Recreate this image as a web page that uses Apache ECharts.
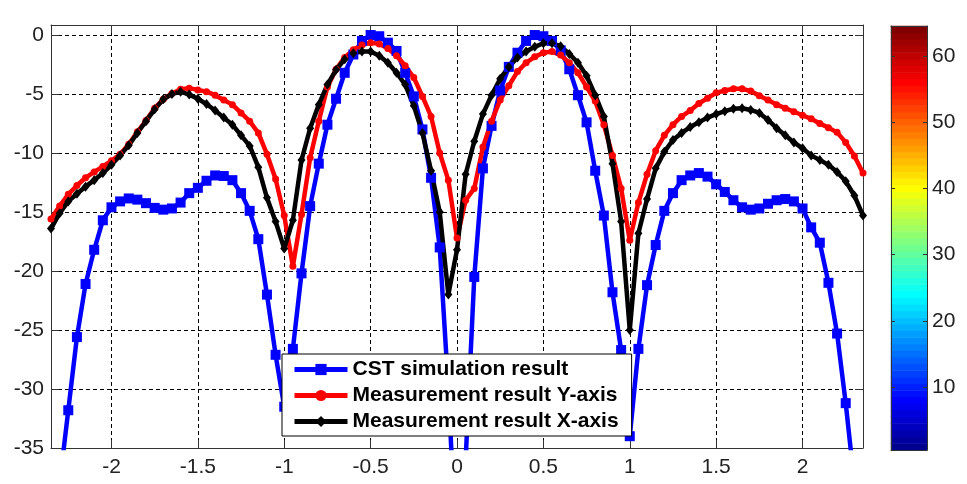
<!DOCTYPE html>
<html><head><meta charset="utf-8">
<script src="https://cdn.jsdelivr.net/npm/echarts@6/dist/echarts.min.js"></script>
<style>html,body{margin:0;padding:0;background:#fff}#c{width:967px;height:484px}</style>
</head><body><div id="c"></div>
<script>
const xTicks = [-2, -1.5, -1, -0.5, 0, 0.5, 1, 1.5, 2];
const yTicks = [-35, -30, -25, -20, -15, -10, -5, 0];
const cbarTicks = [10, 20, 30, 40, 50, 60];
const cbarLevels = [1,2,3,4,5,6,7,8,9,10,11,12,13,14,15,16,17,18,19,20,21,22,23,24,25,26,27,28,29,30,31,32,
  33,34,35,36,37,38,39,40,41,42,43,44,45,46,47,48,49,50,51,52,53,54,55,56,57,58,59,60,61,62,63,64];
const seriesNames = ['CST simulation result', 'Measurement result Y-axis', 'Measurement result X-axis'];

const xCST = [-2.3,-2.25,-2.2,-2.15,-2.1,-2.05,-2,-1.95,-1.9,-1.85,-1.8,-1.75,-1.7,-1.65,-1.6,-1.55,-1.5,-1.45,-1.4,-1.35,
  -1.3,-1.25,-1.2,-1.15,-1.1,-1.05,-1,-0.95,-0.9,-0.85,-0.8,-0.75,-0.7,-0.65,-0.6,-0.55,-0.5,-0.45,-0.4,-0.35,
  -0.3,-0.25,-0.2,-0.15,-0.1,-0.05,0,0.05,0.1,0.15,0.2,0.25,0.3,0.35,0.4,0.45,0.5,0.55,0.6,0.65,
  0.7,0.75,0.8,0.85,0.9,0.95,1,1.05,1.1,1.15,1.2,1.25,1.3,1.35,1.4,1.45,1.5,1.55,1.6,1.65,
  1.7,1.75,1.8,1.85,1.9,1.95,2,2.05,2.1,2.15,2.2,2.25,2.3];
const cstVals = [-38,-31.8,-25.6,-21.1,-18.2,-15.7,-14.6,-14.1,-13.85,-13.95,-14.25,-14.65,-14.8,-14.7,-14.2,-13.4,-12.95,-12.35,-11.9,-11.95,
  -12.3,-13.4,-14.9,-17.3,-22.0,-27.1,-31.5,-26.6,-20.2,-14.5,-10.9,-7.6,-5.4,-3.2,-1.65,-0.5,0,-0.1,-0.65,-1.35,
  -3.2,-5.2,-8.0,-12.1,-18.0,-30.0,-45,-36,-20.5,-11.3,-7.7,-4.7,-2.7,-1.5,-0.5,0,-0.1,-0.5,-1.3,-2.9,
  -5.1,-7.4,-11.5,-15.3,-21.8,-26.7,-34,-26.6,-21.2,-17.8,-14.9,-13.4,-12.3,-11.9,-11.7,-12.0,-12.65,-13.3,-14.0,-14.6,
  -14.8,-14.7,-14.3,-14.0,-13.9,-14.1,-14.7,-16.3,-17.6,-21.0,-25.3,-31.2,-38];

const xMeas = [-2.35,-2.3,-2.25,-2.2,-2.15,-2.1,-2.05,-2,-1.95,-1.9,-1.85,-1.8,-1.75,-1.7,-1.65,-1.6,-1.55,-1.5,-1.45,-1.4,
  -1.35,-1.3,-1.25,-1.2,-1.15,-1.1,-1.05,-1,-0.95,-0.9,-0.85,-0.8,-0.75,-0.7,-0.65,-0.6,-0.55,-0.5,-0.45,-0.4,
  -0.35,-0.3,-0.25,-0.2,-0.15,-0.1,-0.05,0,0.05,0.1,0.15,0.2,0.25,0.3,0.35,0.4,0.45,0.5,0.55,0.6,
  0.65,0.7,0.75,0.8,0.85,0.9,0.95,1,1.05,1.1,1.15,1.2,1.25,1.3,1.35,1.4,1.45,1.5,1.55,1.6,
  1.65,1.7,1.75,1.8,1.85,1.9,1.95,2,2.05,2.1,2.15,2.2,2.25,2.3,2.35];
const measY = [-15.6,-14.5,-13.5,-12.75,-12.1,-11.6,-11.15,-10.65,-10.1,-9.25,-8.2,-7.25,-6.2,-5.45,-4.95,-4.6,-4.5,-4.65,-4.8,-5.1,
  -5.5,-5.9,-6.6,-7.3,-8.3,-10.1,-12.2,-15.3,-19.6,-15.2,-10.4,-7.3,-4.4,-2.9,-1.9,-1.25,-0.85,-0.65,-0.75,-1.15,
  -1.75,-2.6,-3.6,-5.2,-6.9,-10.0,-12.3,-17.2,-14.0,-13.0,-9.5,-7.3,-5.5,-4.3,-3.1,-2.35,-1.85,-1.5,-1.4,-1.7,
  -2.35,-3.2,-4.4,-5.6,-7.6,-10.2,-13.0,-17.4,-14.2,-11.8,-9.8,-8.5,-7.6,-6.9,-6.4,-5.8,-5.35,-4.9,-4.7,-4.55,
  -4.55,-4.75,-5.15,-5.5,-5.9,-6.2,-6.5,-6.8,-7.1,-7.5,-7.85,-8.25,-9.1,-10.25,-11.7];
const measX = [-16.4,-15.1,-14.1,-13.45,-12.85,-12.3,-11.7,-11.0,-10.2,-9.35,-8.3,-7.3,-6.3,-5.45,-5.0,-4.8,-5.05,-5.4,-5.85,-6.4,
  -7.0,-7.6,-8.5,-9.4,-11.2,-13.8,-15.8,-18.1,-15.7,-10.6,-7.9,-5.9,-4.2,-2.95,-2.05,-1.55,-1.4,-1.4,-1.75,-2.35,
  -3.2,-4.2,-6.0,-8.3,-11.5,-15.0,-22.0,-18.2,-11.8,-9.0,-6.7,-5.1,-3.7,-2.7,-1.9,-1.4,-1.0,-0.7,-0.7,-0.95,
  -1.6,-2.35,-3.45,-5.1,-6.9,-10.9,-15.8,-25.0,-16.8,-13.9,-11.3,-9.9,-8.9,-8.3,-7.8,-7.4,-7.0,-6.7,-6.45,-6.25,
  -6.2,-6.35,-6.6,-7.2,-7.9,-8.5,-9.1,-9.6,-10.2,-10.6,-11.0,-11.6,-12.4,-13.6,-15.3];

// MATLAB jet colormap (64 entries) as a colour style
function jet(k) {
  let r, g, b;
  r = k <= 24 ? 0 : k <= 40 ? (k - 24) / 16 : k <= 56 ? 1 : (72 - k) / 16;
  g = k <= 8 ? 0 : k <= 24 ? (k - 8) / 16 : k <= 40 ? 1 : k <= 56 ? (56 - k) / 16 : 0;
  b = k <= 8 ? (k + 8) / 16 : k <= 24 ? 1 : k <= 40 ? (40 - k) / 16 : 0;
  const h = v => Math.round(Math.max(0, Math.min(1, v)) * 255).toString(16).padStart(2, '0');
  return '#' + h(r) + h(g) + h(b);
}
const jetColors = cbarLevels.map(jet);

const FONT = '"Liberation Sans", Arial, sans-serif';
const frameColor = '#333';
const pairs = (xs, ys) => xs.map((x, i) => [x, ys[i]]);

const chart = echarts.init(document.getElementById('c'), null, {renderer: 'canvas'});
const mirrorX = (pos) => ({
  gridIndex: 0, type: 'value', min: -2.35, max: 2.35, position: pos,
  axisLine: {show: true, onZero: false, lineStyle: {color: frameColor, width: 1}},
  axisTick: {show: true, inside: true, length: 8, customValues: xTicks, lineStyle: {color: frameColor}},
  axisLabel: pos === 'bottom' ? {show: true, customValues: xTicks, fontSize: 21, color: '#222', margin: 9, fontFamily: FONT} : {show: false},
  splitLine: pos === 'bottom' ? {show: true, lineStyle: {type: [4, 3], color: '#000', width: 1}} : {show: false}
});
const mirrorY = (pos) => ({
  gridIndex: 0, type: 'value', min: -35, max: 0.85, position: pos,
  axisLine: {show: true, onZero: false, lineStyle: {color: frameColor, width: 1}},
  axisTick: {show: true, inside: true, length: 8, customValues: yTicks, lineStyle: {color: frameColor}},
  axisLabel: pos === 'left' ? {show: true, customValues: yTicks, fontSize: 21, color: '#222', margin: 7, fontFamily: FONT} : {show: false},
  splitLine: pos === 'left' ? {show: true, lineStyle: {type: [4, 3], color: '#000', width: 1}} : {show: false}
});

const option = {
  animation: false,
  backgroundColor: '#fff',
  grid: [
    {left: 51, top: 25, width: 812, height: 423, containLabel: false},
    {left: 891, top: 26, width: 36, height: 424, containLabel: false}
  ],
  xAxis: [
    mirrorX('bottom'),
    mirrorX('top'),
    {gridIndex: 1, type: 'category', data: ['cb'], position: 'bottom', z: 5,
      axisLine: {show: true, lineStyle: {color: frameColor}}, axisTick: {show: false}, axisLabel: {show: false}, splitLine: {show: false}},
    {gridIndex: 1, type: 'category', data: ['cb'], position: 'top', z: 5,
      axisLine: {show: true, lineStyle: {color: frameColor}}, axisTick: {show: false}, axisLabel: {show: false}, splitLine: {show: false}}
  ],
  yAxis: [
    mirrorY('left'),
    mirrorY('right'),
    {gridIndex: 1, type: 'category', data: cbarLevels.map(String), show: false},
    {gridIndex: 1, type: 'value', min: 0.5, max: 64.5, position: 'right', z: 5,
      axisLine: {show: true, onZero: false, lineStyle: {color: frameColor}},
      axisTick: {show: true, inside: true, length: 4, customValues: cbarTicks, lineStyle: {color: frameColor}},
      axisLabel: {show: true, customValues: cbarTicks, fontSize: 21, color: '#222', margin: 5, fontFamily: FONT},
      splitLine: {show: false}},
    {gridIndex: 1, type: 'value', min: 0.5, max: 64.5, position: 'left', z: 5,
      axisLine: {show: true, onZero: false, lineStyle: {color: frameColor}},
      axisTick: {show: true, inside: true, length: 4, customValues: cbarTicks, lineStyle: {color: frameColor}},
      axisLabel: {show: false}, splitLine: {show: false}}
  ],
  visualMap: {
    type: 'continuous', show: false, seriesIndex: 3, dimension: 2, min: 1, max: 64,
    inRange: {color: jetColors}
  },
  legend: {
    orient: 'vertical', left: 282, top: 354, padding: [5, 13, 4, 10], itemGap: 5,
    itemWidth: 53, itemHeight: 14, borderColor: '#000', borderWidth: 1, backgroundColor: '#fff',
    lineStyle: {width: 5},
    textStyle: {fontSize: 21, fontWeight: 'bold', color: '#000', fontFamily: FONT, lineHeight: 21},
    data: seriesNames, z: 10
  },
  series: [
    {name: seriesNames[0], type: 'line', xAxisIndex: 0, yAxisIndex: 0, data: pairs(xCST, cstVals),
      symbol: 'rect', symbolSize: 10, showAllSymbol: true, clip: true,
      lineStyle: {color: '#0000ff', width: 4.5}, itemStyle: {color: '#0000ff'}},
    {name: seriesNames[1], type: 'line', xAxisIndex: 0, yAxisIndex: 0, data: pairs(xMeas, measY),
      symbol: 'circle', symbolSize: 7, showAllSymbol: true, clip: true,
      lineStyle: {color: '#ff0000', width: 4.5}, itemStyle: {color: '#ff0000'}},
    {name: seriesNames[2], type: 'line', xAxisIndex: 0, yAxisIndex: 0, data: pairs(xMeas, measX),
      symbol: 'diamond', symbolSize: [8, 10], showAllSymbol: true, clip: true,
      lineStyle: {color: '#000000', width: 4.5}, itemStyle: {color: '#000000'}},
    {type: 'heatmap', xAxisIndex: 2, yAxisIndex: 2, data: cbarLevels.map((v, i) => [0, i, v]),
      itemStyle: {borderWidth: 0}, emphasis: {disabled: true}}
  ]
};
chart.setOption(option);
</script></body></html>
